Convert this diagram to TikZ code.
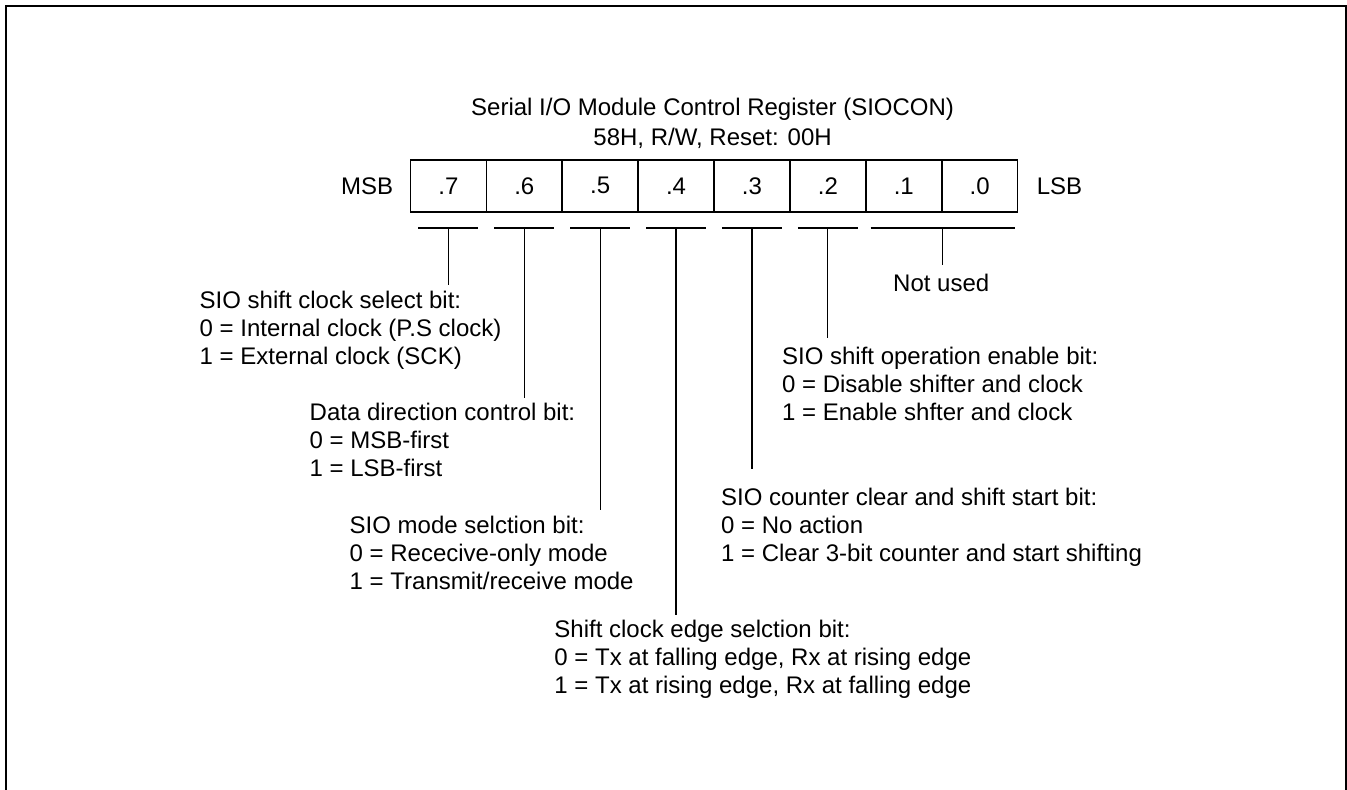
\documentclass[tikz,border=0pt]{standalone}
\usepackage{fontspec}
\setmainfont{Liberation Sans}
\usetikzlibrary{positioning}
\begin{document}
\begin{tikzpicture}[x=0.5pt, y=-0.5pt, font=\fontsize{12}{14}\selectfont,
    bitcell/.style={draw, line width=0.8pt, minimum width=37.95pt, minimum height=26pt, inner sep=0pt},
    sidelbl/.style={inner sep=0pt},
    desc/.style={anchor=north west, align=left, inner sep=0pt},
    tick/.style={line width=0.6pt}]
  \useasboundingbox (0,0) rectangle (1347,790);
  % outer frame, open at the bottom
  \draw[line width=1pt] (6,790) -- (6,6) -- (1345.5,6) -- (1345.5,790);
  % title
  \node[anchor=north, align=center, inner sep=0pt, font=\fontsize{12}{15}\selectfont] (title) at (712.6,97.5)
    {Serial I/O Module Control Register (SIOCON)\\58H, R/W, Reset: 00H};
  % register cells .7 ... .0
  \foreach \i in {7,...,0} {
    \node[bitcell] (b\i) at ({448.35+75.9*(7-\i)},185.8) {.\i};
  }
  \node[sidelbl, left=8pt of b7] (msb) {MSB};
  \node[sidelbl, right=9pt of b0] (lsb) {LSB};
  % underlines below the cells
  \coordinate (ulev) at (0,228);
  \foreach \i in {7,...,2} {
    \coordinate (u\i) at (b\i |- ulev);
    \draw[tick] ([xshift=-15pt]u\i) -- ([xshift=15pt]u\i);
  }
  \coordinate (u1) at (b1.east |- ulev);
  \draw[tick] ([xshift=-36pt]u1) -- ([xshift=36pt]u1);
  % bit descriptions
  \node[desc] (d7) at (199.3,290.8) {SIO shift clock select bit:\\0 = Internal clock (P.S clock)\\1 = External clock (SCK)};
  \node[desc] (d6) at (309.3,402.5) {Data direction control bit:\\0 = MSB-first\\1 = LSB-first};
  \node[desc] (d5) at (349.3,515.5) {SIO mode selction bit:\\0 = Rececive-only mode\\1 = Transmit/receive mode};
  \node[desc] (d4) at (554,619.8) {Shift clock edge selction bit:\\0 = Tx at falling edge, Rx at rising edge\\1 = Tx at rising edge, Rx at falling edge};
  \node[desc] (d3) at (720.7,487.5) {SIO counter clear and shift start bit:\\0 = No action\\1 = Clear 3-bit counter and start shifting};
  \node[desc] (d2) at (781.7,346.5) {SIO shift operation enable bit:\\0 = Disable shifter and clock\\1 = Enable shfter and clock};
  \node[anchor=base, inner sep=0pt] (nu) at (941.2,291.7) {Not used};
  % stems from the underlines to the texts
  \foreach \i/\gap in {7/2.9, 6/2.25, 5/2.75, 4/2.4, 3/9.1, 2/4.1} {
    \draw[tick] (u\i) -- ([yshift=\gap pt]u\i |- d\i.north);
  }
  \draw[tick] (u1) -- ([yshift=4.35pt]u1 |- nu.north);
\end{tikzpicture}
\end{document}
